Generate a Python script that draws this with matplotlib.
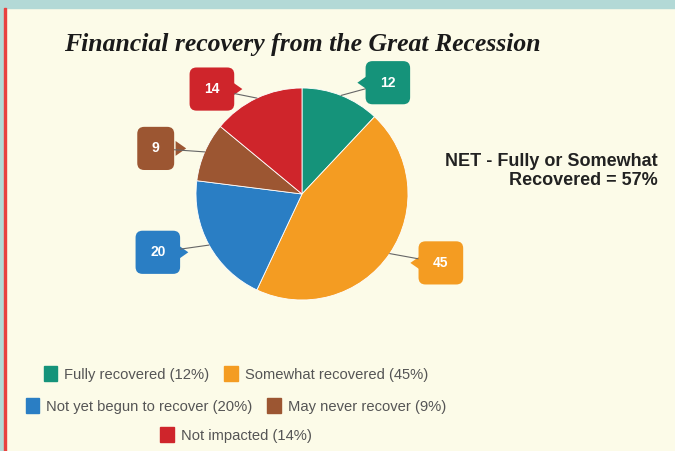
import matplotlib.pyplot as plt
import matplotlib.patches as mpatches
import numpy as np

# Chart data
categories = ['Fully recovered', 'Somewhat recovered', 'Not yet begun to recover',
              'May never recover', 'Not impacted']
values = [12, 45, 20, 9, 14]
colors = ['#15937a', '#f49c22', '#2a7ec4', '#9c5632', '#cf252b']
label_offsets = [(0.81, 1.05), (1.31, -0.65), (-1.36, -0.55), (-1.38, 0.43), (-0.85, 0.99)]
legend_rows = [[0, 1], [2, 3], [4]]

W, H = 675, 451
fig = plt.figure(figsize=(W / 100, H / 100), dpi=100)
fig.patch.set_facecolor('#fcfbe8')

# frame: teal band on top and left, thin red line
fig.patches.append(mpatches.Rectangle((0, 1 - 8 / H), 1, 8 / H, transform=fig.transFigure,
                                      color='#b3d9d6', zorder=0))
fig.patches.append(mpatches.Rectangle((0, 0), 4 / W, 1, transform=fig.transFigure,
                                      color='#b3d9d6', zorder=0))
fig.patches.append(mpatches.Rectangle((4 / W, 0), 2 / W, 1 - 8 / H, transform=fig.transFigure,
                                      color='#e8413f', zorder=0))

# pie axes
cx, cy, r = 302, 194, 106
ax = fig.add_axes([(cx - r) / W, (H - cy - r) / H, 2 * r / W, 2 * r / H])

wedges, _ = ax.pie(values, colors=colors, startangle=90, counterclock=False, radius=1,
                   wedgeprops=dict(edgecolor='white', linewidth=0.6))
ax.set_xlim(-1, 1)
ax.set_ylim(-1, 1)
ax.axis('off')

# callout boxes with a little pointer toward the pie
hw = 22 / r  # half box width in data units
total = sum(values)
cum = 0
for v, c, (dx, dy) in zip(values, colors, label_offsets):
    mid = np.deg2rad(90 - (cum + v / 2) / total * 360)
    cum += v
    ax.annotate(str(v), xy=(np.cos(mid), np.sin(mid)), xytext=(dx, dy),
                ha='center', va='center', color='white', fontsize=10, fontweight='bold',
                family='Liberation Sans', annotation_clip=False, zorder=5,
                bbox=dict(boxstyle='round,pad=1.05,rounding_size=0.5', fc=c, ec='none'),
                arrowprops=dict(arrowstyle='-', color='#666666', lw=0.8,
                                shrinkA=0, shrinkB=0))
    side = 1 if np.cos(mid) > dx else -1
    bx = dx + side * (hw - 0.02)
    tri = mpatches.Polygon([(bx, dy + 0.07), (bx, dy - 0.07), (bx + side * 0.1, dy)],
                           closed=True, fc=c, ec='none', zorder=4, clip_on=False)
    ax.add_patch(tri)

# title
fig.text(302 / W, 1 - 45 / H, 'Financial recovery from the Great Recession',
         ha='center', va='center', fontsize=18.5, fontweight='bold', fontstyle='italic',
         family='Liberation Serif', color='#1a1a1a')

# NET note
fig.text(658 / W, 1 - 171 / H, 'NET - Fully or Somewhat\nRecovered = 57%',
         ha='right', va='center', fontsize=13, fontweight='bold',
         family='Liberation Sans', color='#222222', linespacing=1.2)

# legend: three centred rows
row_y = [374, 406, 435]
for row, y in zip(legend_rows, row_y):
    handles = [mpatches.Patch(color=colors[i],
                              label='%s (%d%%)' % (categories[i], values[i])) for i in row]
    leg = fig.legend(handles=handles, loc='center', bbox_to_anchor=(236 / W, 1 - y / H),
                     ncol=len(row), frameon=False, handlelength=0.9, handleheight=1.1,
                     handletextpad=0.5, columnspacing=1.0,
                     prop=dict(family='Liberation Sans', size=10.6))
    for t in leg.get_texts():
        t.set_color('#555555')

fig.savefig('out.png', dpi=100, facecolor=fig.get_facecolor())
